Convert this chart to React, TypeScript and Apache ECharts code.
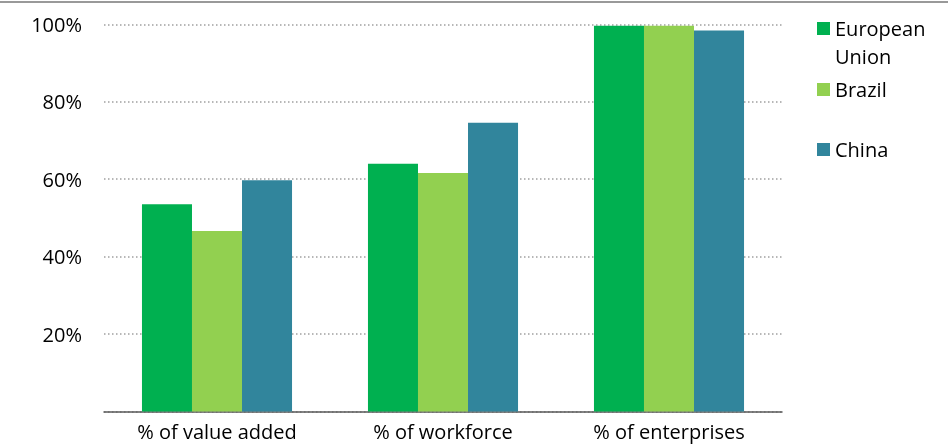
import React, { useEffect, useRef } from "react";
import * as echarts from "echarts";

const categories = ["% of value added", "% of workforce", "% of enterprises"];
const euValues = [53.5, 64.0, 99.6];
const brazilValues = [46.6, 61.6, 99.6];
const chinaValues = [59.7, 74.6, 98.4];
const seriesNames = ["European Union", "Brazil", "China"];
const yTicks = [0, 20, 40, 60, 80, 100];

const FONT = "'Open Sans', sans-serif";
const FS = 20;

export default function App() {
  const ref = useRef<HTMLDivElement>(null);
  useEffect(() => {
    if (!ref.current) return;
    const chart = echarts.init(ref.current, undefined, { renderer: "svg" });
    const colors = ["#00B050", "#92D050", "#31859C"];
    const legendBase = {
      orient: "vertical" as const,
      left: 817,
      itemWidth: 13,
      itemHeight: 13,
      itemGap: 0,
      padding: 0,
      icon: "rect",
      textStyle: { fontFamily: FONT, fontSize: FS, color: "#000", lineHeight: 28 },
    };
    const richStyle = {
      p: { fontFamily: FONT, fontSize: FS, lineHeight: 28, color: "#000" },
      a: { fontFamily: FONT, fontSize: FS, lineHeight: 28, color: "#000" },
    };
    chart.setOption({
      animation: false,
      color: colors,
      textStyle: { fontFamily: FONT },
      graphic: [
        { type: "rect", shape: { x: 0, y: 1, width: 948, height: 2 }, style: { fill: "#999" }, silent: true },
      ],
      legend: [
        {
          ...legendBase,
          top: 28.5 - 42,
          textStyle: { ...legendBase.textStyle, rich: richStyle },
          data: [seriesNames[0]],
          formatter: () => "{p| }\n{a|European}\n{a|Union}",
        },
        { ...legendBase, top: 89.5 - 14, data: [seriesNames[1]] },
        { ...legendBase, top: 149.5 - 14, data: [seriesNames[2]] },
      ],
      grid: { left: 104, right: 166, top: 24.3, bottom: 34.5, containLabel: false },
      xAxis: {
        type: "category",
        data: categories,
        axisTick: { show: false },
        axisLine: { lineStyle: { color: "#595959", width: 1.5 } },
        axisLabel: { fontFamily: FONT, fontSize: FS, color: "#000", margin: 10 },
      },
      yAxis: {
        type: "value",
        min: yTicks[0],
        max: yTicks[yTicks.length - 1],
        interval: 20,
        axisLine: { show: false },
        axisTick: { show: false },
        axisLabel: {
          fontFamily: FONT,
          fontSize: FS,
          color: "#000",
          margin: 22,
          formatter: (v: number) => (v === 0 ? "" : v + "%"),
        },
        splitLine: {
          show: true,
          lineStyle: { color: "#a0a0a0", width: 1.5, type: [1.5, 2.5] },
        },
      },
      series: [
        { name: seriesNames[0], type: "bar", data: euValues, barGap: "0%", barCategoryGap: "33.6%" },
        { name: seriesNames[1], type: "bar", data: brazilValues, barGap: "0%", barCategoryGap: "33.6%" },
        { name: seriesNames[2], type: "bar", data: chinaValues, barGap: "0%", barCategoryGap: "33.6%" },
      ],
    });
    return () => chart.dispose();
  }, []);
  return <div ref={ref} style={{ position: "fixed", left: 0, top: 0, width: 948, height: 446 }} />;
}
